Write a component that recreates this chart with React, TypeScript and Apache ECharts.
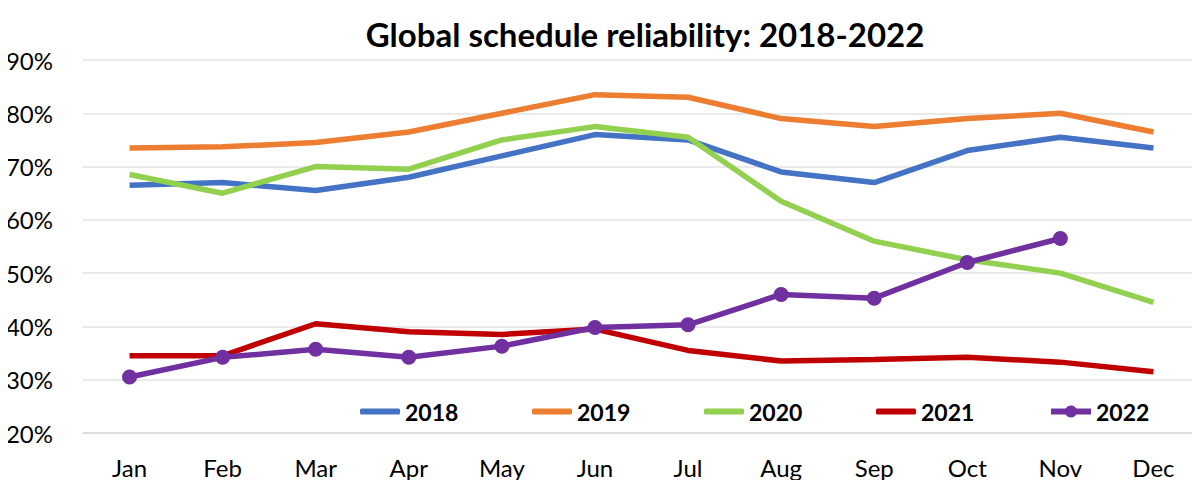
import React, { useEffect, useRef } from "react";
import * as echarts from "echarts";

const months = ["Jan", "Feb", "Mar", "Apr", "May", "Jun", "Jul", "Aug", "Sep", "Oct", "Nov", "Dec"];
const years = ["2018", "2019", "2020", "2021", "2022"];
const s2018 = [66.5, 67, 65.5, 68, 72, 76, 75, 69, 67, 73, 75.5, 73.5];
const s2019 = [73.5, 73.7, 74.5, 76.5, 80, 83.5, 83, 79, 77.5, 79, 80, 76.5];
const s2020 = [68.5, 65, 70, 69.5, 75, 77.5, 75.5, 63.5, 56, 52.5, 50, 44.5];
const s2021 = [34.5, 34.5, 40.5, 39, 38.5, 39.5, 35.5, 33.5, 33.8, 34.2, 33.3, 31.5];
const s2022 = [30.5, 34.2, 35.7, 34.2, 36.3, 39.8, 40.3, 46, 45.3, 52, 56.5];
const colors = ["#4472C4", "#ED7D31", "#92D050", "#C00000", "#7030A0"];
const FONT = "Lato, 'Open Sans', sans-serif";

export default function App() {
  const ref = useRef<HTMLDivElement>(null);
  useEffect(() => {
    if (!ref.current) return;
    const chart = echarts.init(ref.current, null, { renderer: "svg" });
    const data = [s2018, s2019, s2020, s2021, s2022];
    chart.setOption({
      animation: false,
      title: {
        text: "Global schedule reliability: 2018-2022",
        left: 640,
        top: 12,
        textAlign: "center",
        textStyle: { fontFamily: FONT, fontWeight: "bold", fontSize: 33, color: "#000" },
      },
      legend: years.map((y, i) => ({
        data: [i === 4 ? { name: y } : { name: y, icon: "roundRect" }],
        left: 360 + i * 172,
        top: 400,
        itemWidth: 40,
        itemHeight: i === 4 ? 15 : 6,
        itemGap: 0,
        padding: 0,
        lineStyle: { width: 6 },
        textStyle: { fontFamily: FONT, fontWeight: "bold", fontSize: 23, color: "#000" },
      })),
      grid: { left: 83, right: -11, top: 60, bottom: 55, containLabel: false },
      xAxis: {
        type: "category",
        data: months,
        boundaryGap: true,
        axisLine: { lineStyle: { color: "#d9d9d9", width: 1.5 } },
        axisTick: { inside: true, length: 11, lineStyle: { color: "#d9d9d9", width: 1.5 } },
        axisLabel: { fontFamily: FONT, fontSize: 24, color: "#000", margin: 22 },
      },
      yAxis: {
        type: "value",
        min: 20,
        max: 90,
        interval: 10,
        axisLine: { show: false },
        axisTick: { show: false },
        splitLine: { lineStyle: { color: "#e3e3e3", width: 1.5 } },
        axisLabel: { fontFamily: FONT, fontSize: 24, color: "#000", formatter: "{value}%", margin: 30 },
      },
      series: years.map((y, i) => ({
        name: y,
        type: "line",
        data: data[i],
        color: colors[i],
        lineStyle: { width: 5.5, color: colors[i] },
        symbol: i === 4 ? "circle" : "none",
        symbolSize: 15,
        showSymbol: i === 4,
        itemStyle: { color: colors[i] },
        z: i === 4 ? 5 : 2,
      })),
    });
    return () => chart.dispose();
  }, []);
  return <div ref={ref} style={{ width: 1200, height: 488, margin: -8 }} />;
}
